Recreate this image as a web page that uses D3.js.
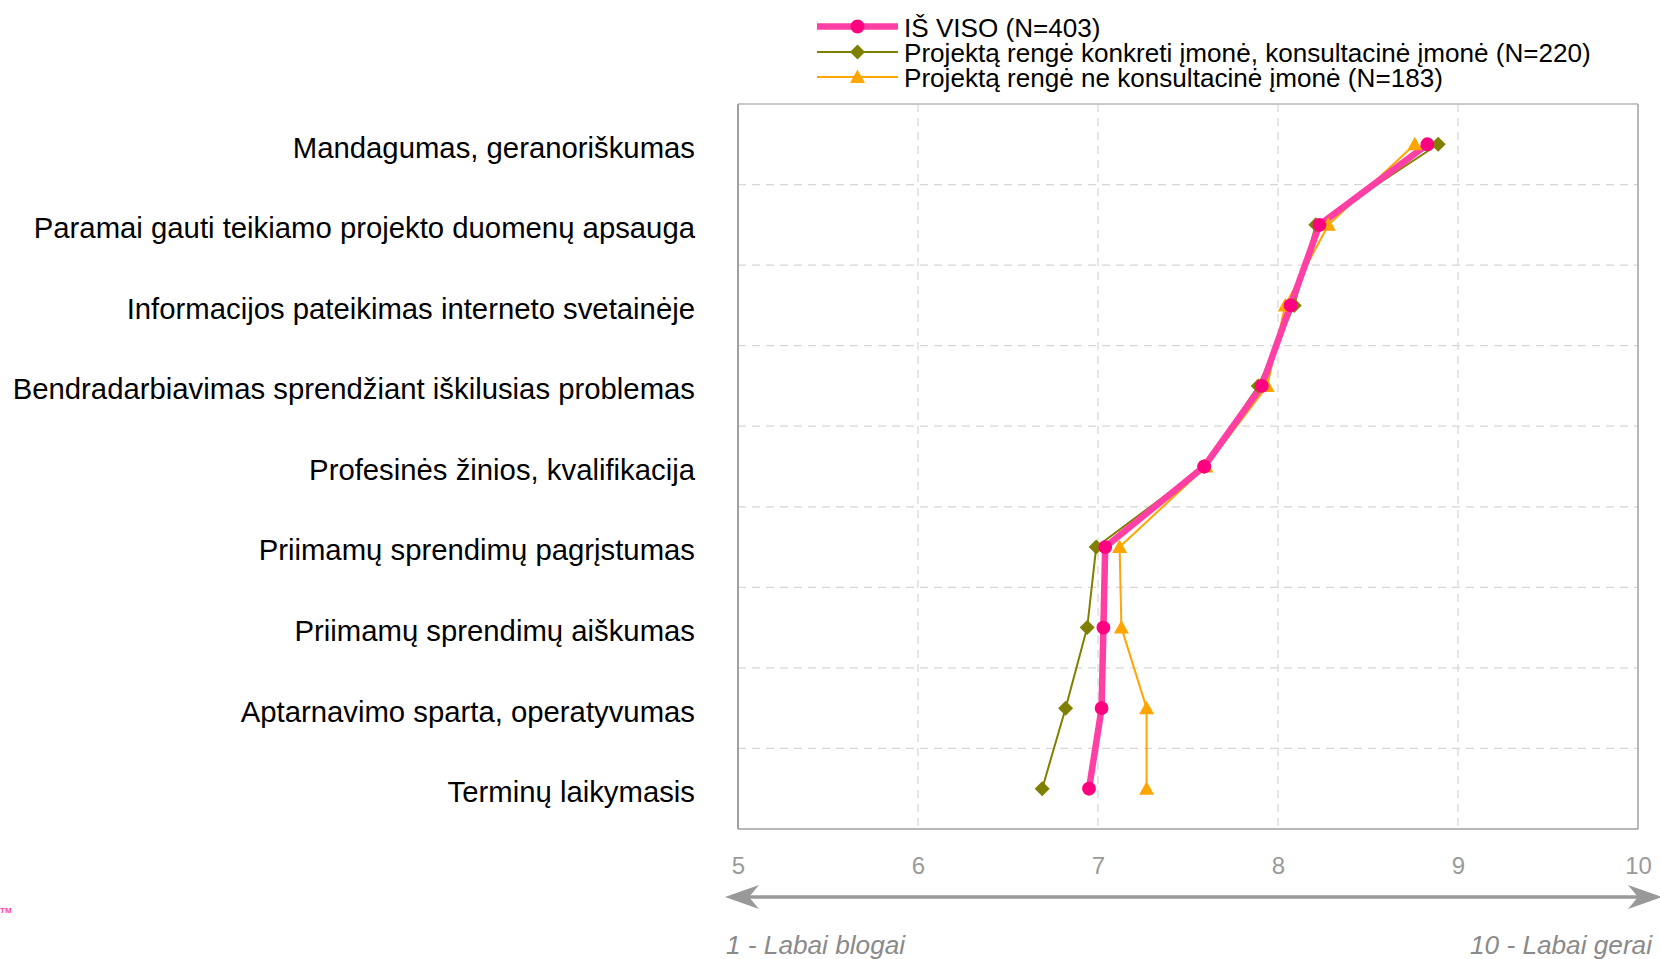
<!DOCTYPE html>
<html><head><meta charset="utf-8">
<script src="https://cdn.jsdelivr.net/npm/d3@7"></script>
<style>html,body{margin:0;padding:0;background:#fff;overflow:hidden}svg{display:block;font-family:"Liberation Sans",Arial,sans-serif}</style>
</head><body>
<svg id="c" width="1660" height="959"></svg>
<script>
const categories = [
  "Mandagumas, geranoriškumas",
  "Paramai gauti teikiamo projekto duomenų apsauga",
  "Informacijos pateikimas interneto svetainėje",
  "Bendradarbiavimas sprendžiant iškilusias problemas",
  "Profesinės žinios, kvalifikacija",
  "Priimamų sprendimų pagrįstumas",
  "Priimamų sprendimų aiškumas",
  "Aptarnavimo sparta, operatyvumas",
  "Terminų laikymasis"
];
const seriesNames = [
  "IŠ VISO (N=403)",
  "Projektą rengė konkreti įmonė, konsultacinė įmonė (N=220)",
  "Projektą rengė ne konsultacinė įmonė (N=183)"
];
const totalValues  = [8.83, 8.23, 8.07, 7.91, 7.59, 7.04, 7.03, 7.02, 6.95];
const consultValues = [8.89, 8.21, 8.09, 7.89, 7.59, 6.99, 6.94, 6.82, 6.69];
const otherValues  = [8.76, 8.28, 8.04, 7.94, 7.60, 7.12, 7.13, 7.27, 7.27];
const xTicks = [5, 6, 7, 8, 9, 10];
const xDomain = [5, 10];
const scaleLabels = ["1 - Labai blogai", "10 - Labai gerai"];

const svg = d3.select("#c");
const L = 738, R = 1638, T = 104, B = 829;
const x = d3.scaleLinear().domain(xDomain).range([L, R]);
const y = d3.scaleBand().domain(categories).range([T, B]);
const yc = c => y(c) + y.bandwidth() / 2;

// gridlines
const g = svg.append("g");
g.selectAll(".vg").data(xTicks.slice(1, -1)).join("line")
  .attr("x1", d => x(d)).attr("x2", d => x(d)).attr("y1", T).attr("y2", B)
  .attr("stroke", "#d6d6d6").attr("stroke-width", 1.2).attr("stroke-dasharray", "8,6");
g.selectAll(".hg").data(categories.slice(1)).join("line")
  .attr("x1", L).attr("x2", R).attr("y1", d => y(d)).attr("y2", d => y(d))
  .attr("stroke", "#d6d6d6").attr("stroke-width", 1.2).attr("stroke-dasharray", "8,6");
// border
g.append("line").attr("x1", L).attr("x2", R).attr("y1", T).attr("y2", T).attr("stroke", "#c8c8c8").attr("stroke-width", 2);
g.append("line").attr("x1", L).attr("x2", R).attr("y1", B).attr("y2", B).attr("stroke", "#a0a0a0").attr("stroke-width", 1.5);
g.append("line").attr("x1", L).attr("x2", L).attr("y1", T).attr("y2", B).attr("stroke", "#a0a0a0").attr("stroke-width", 2);
g.append("line").attr("x1", R).attr("x2", R).attr("y1", T).attr("y2", B).attr("stroke", "#a0a0a0").attr("stroke-width", 1.5);

// category axis
const ya = svg.append("g").attr("transform", `translate(${L},4)`)
  .call(d3.axisLeft(y).tickSize(0).tickPadding(43));
ya.select(".domain").remove();
ya.selectAll("text").attr("font-size", 29.3).attr("fill", "#000")
  .attr("font-family", "'Liberation Sans', Arial, sans-serif");

// x axis labels
const xa = svg.append("g").attr("transform", `translate(0,${866})`)
  .call(d3.axisBottom(x).tickValues(xTicks).tickSize(0).tickPadding(0).tickFormat(d3.format("d")));
xa.select(".domain").remove();
xa.selectAll("text").attr("font-size", 24).attr("fill", "#9a9a9a").attr("dy", "0.35em")
  .attr("font-family", "'Liberation Sans', Arial, sans-serif");

// double arrow
const ay = 897, aL = 725, aR = 1662;
svg.append("line").attr("x1", aL + 10).attr("x2", aR - 10).attr("y1", ay).attr("y2", ay)
  .attr("stroke", "#999").attr("stroke-width", 3.5);
svg.append("path").attr("d", `M${aL},${ay} L${aL + 34},${ay - 12} L${aL + 24},${ay} L${aL + 34},${ay + 12} Z`).attr("fill", "#999");
svg.append("path").attr("d", `M${aR},${ay} L${aR - 34},${ay - 12} L${aR - 24},${ay} L${aR - 34},${ay + 12} Z`).attr("fill", "#999");

svg.append("text").attr("x", 726).attr("y", 945).attr("dy", "0.35em").attr("font-size", 26.2)
  .attr("font-style", "italic").attr("fill", "#8a8a8a").text(scaleLabels[0]);
svg.append("text").attr("x", 1652).attr("y", 945).attr("dy", "0.35em").attr("font-size", 26.2)
  .attr("text-anchor", "end").attr("font-style", "italic").attr("fill", "#8a8a8a").text(scaleLabels[1]);

svg.append("text").attr("x", 0).attr("y", 913).attr("font-size", 8).attr("font-weight", "bold")
  .attr("fill", "#ff3fa4").text("TM");

// series
const series = [
  {name: seriesNames[0], values: totalValues, line: "#ff3fa4", mark: "#ff0080", w: 6.5, shape: "circle"},
  {name: seriesNames[1], values: consultValues, line: "#808000", mark: "#808000", w: 2, shape: "diamond"},
  {name: seriesNames[2], values: otherValues, line: "#ffa500", mark: "#ffa500", w: 2, shape: "triangle"}
];
const symbolPath = (shape) => {
  if (shape === "circle") return d3.symbol(d3.symbolCircle, 150)();
  if (shape === "diamond") return "M0,-7.5 L7.5,0 L0,7.5 L-7.5,0 Z";
  return "M0,-7.5 L7.5,6 L-7.5,6 Z";
};
const line = d3.line().x(d => x(d.v)).y(d => yc(d.c));
const drawOrder = [2, 1, 0];
drawOrder.forEach(i => {
  const s = series[i];
  const pts = categories.map((c, k) => ({c, v: s.values[k]}));
  svg.append("path").datum(pts).attr("d", line).attr("fill", "none")
    .attr("stroke", s.line).attr("stroke-width", s.w).attr("stroke-linejoin", "round");
});
drawOrder.forEach(i => {
  const s = series[i];
  const pts = categories.map((c, k) => ({c, v: s.values[k]}));
  svg.append("g").selectAll("path").data(pts).join("path")
    .attr("transform", d => `translate(${x(d.v)},${yc(d.c)})`)
    .attr("d", symbolPath(s.shape)).attr("fill", s.mark);
});

// legend
const lx1 = 817, lx2 = 898, lt = 904;
const ly = [26.5, 52, 77];
series.forEach((s, i) => {
  const lg = svg.append("g");
  lg.append("line").attr("x1", lx1).attr("x2", lx2).attr("y1", ly[i]).attr("y2", ly[i])
    .attr("stroke", s.line).attr("stroke-width", s.w);
  lg.append("path").attr("transform", `translate(${(lx1 + lx2) / 2},${ly[i]})`)
    .attr("d", symbolPath(s.shape)).attr("fill", s.mark);
  lg.append("text").attr("x", lt).attr("y", ly[i] + 1).attr("dy", "0.35em")
    .attr("font-size", 26.1).attr("fill", "#000").text(s.name);
});
</script>
</body></html>
